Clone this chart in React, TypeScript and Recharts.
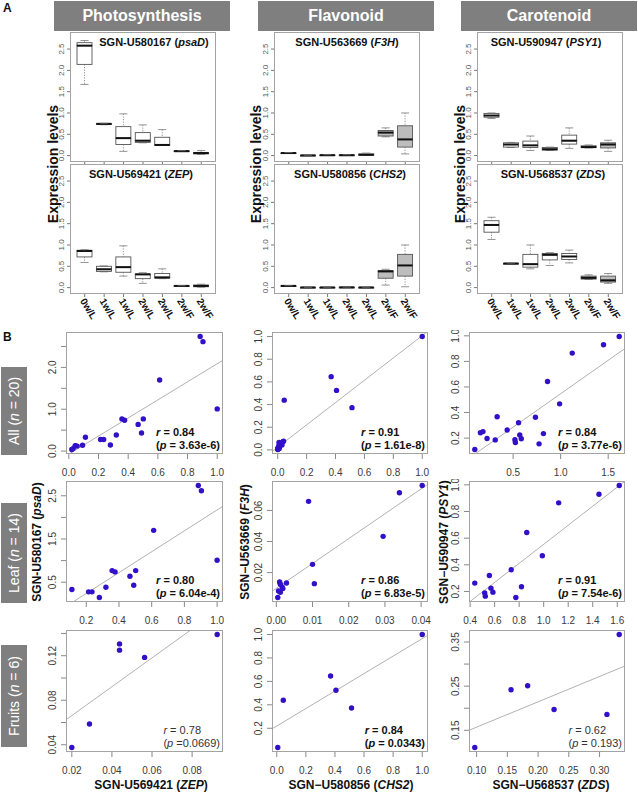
import React from 'react';
import {
  ComposedChart, Bar, XAxis, YAxis, ScatterChart, Scatter, ReferenceLine,
} from 'recharts';

const FONT = '"Liberation Sans", Arial, Helvetica, sans-serif';
const DOT = '#3210c8';
const FRAME = '#a3a3a3';
const TICK_TXT = '#3a3a3a';
const HEAD_BG = '#7f7f7f';

// ---------- A: box plots ----------
const stageLabels = ['0w/L', '1w/L', '1w/L', '2w/L', '2w/L', '2w/F', '2w/F'];
const stageFruit = [false, false, false, false, false, true, true];

// [min, q1, median, q3, max] per stage
const psadBox = [
  [1.67, 2.14, 2.58, 2.65, 2.70],
  [0.725, 0.735, 0.745, 0.752, 0.76],
  [0.10, 0.26, 0.41, 0.68, 0.98],
  [0.30, 0.31, 0.35, 0.54, 0.72],
  [0.24, 0.245, 0.25, 0.43, 0.61],
  [0.095, 0.10, 0.105, 0.11, 0.115],
  [0.03, 0.04, 0.06, 0.075, 0.12],
];
const zepBox = [
  [0.59, 0.72, 0.86, 0.875, 0.89],
  [0.37, 0.38, 0.43, 0.50, 0.51],
  [0.27, 0.36, 0.48, 0.72, 0.98],
  [0.10, 0.21, 0.31, 0.32, 0.35],
  [0.21, 0.22, 0.24, 0.33, 0.44],
  [0.035, 0.038, 0.04, 0.042, 0.045],
  [0.01, 0.02, 0.04, 0.06, 0.08],
];
const f3hBox = [
  [0.05, 0.055, 0.06, 0.065, 0.07],
  [0.0, 0.003, 0.005, 0.007, 0.01],
  [0.005, 0.008, 0.01, 0.013, 0.02],
  [0.004, 0.007, 0.01, 0.013, 0.02],
  [0.01, 0.015, 0.02, 0.04, 0.06],
  [0.44, 0.46, 0.54, 0.59, 0.65],
  [0.04, 0.20, 0.38, 0.70, 1.0],
];
const chs2Box = [
  [0.035, 0.038, 0.04, 0.042, 0.045],
  [0.0, 0.002, 0.004, 0.006, 0.008],
  [0.0, 0.002, 0.004, 0.006, 0.008],
  [0.002, 0.004, 0.006, 0.008, 0.012],
  [0.0, 0.002, 0.004, 0.006, 0.008],
  [0.06, 0.22, 0.38, 0.40, 0.43],
  [0.02, 0.27, 0.52, 0.78, 1.0],
];
const psy1Box = [
  [0.87, 0.90, 0.94, 0.99, 1.0],
  [0.19, 0.20, 0.26, 0.30, 0.31],
  [0.12, 0.19, 0.24, 0.34, 0.46],
  [0.12, 0.13, 0.15, 0.19, 0.20],
  [0.17, 0.27, 0.35, 0.48, 0.65],
  [0.18, 0.19, 0.20, 0.23, 0.25],
  [0.10, 0.18, 0.26, 0.30, 0.36],
];
const zdsBox = [
  [1.13, 1.30, 1.47, 1.57, 1.65],
  [0.555, 0.56, 0.565, 0.57, 0.575],
  [0.44, 0.48, 0.55, 0.78, 1.0],
  [0.52, 0.65, 0.77, 0.80, 0.82],
  [0.58, 0.66, 0.73, 0.80, 0.88],
  [0.19, 0.20, 0.23, 0.27, 0.30],
  [0.10, 0.13, 0.17, 0.27, 0.33],
];
const boxYTicks = [0, 0.5, 1, 1.5, 2, 2.5];

// ---------- B: scatter data (x gene, y gene) ----------
const zepLeaf = [0.885, 0.904, 0.612, 1.0, 0.358, 0.376, 0.502, 0.467, 0.49, 0.32, 0.28, 0.214, 0.235, 0.112];
const psadLeaf = [2.738, 2.615, 1.70, 1.008, 0.769, 0.738, 0.769, 0.638, 0.431, 0.385, 0.146, 0.277, 0.277, 0.33];
const zepFruit = [0.020, 0.0288, 0.0438, 0.0438, 0.0563, 0.0925];
const psadFruit = [0.0376, 0.0587, 0.1306, 0.125, 0.1185, 0.139];

const chs2Leaf = [0.0403, 0.034, 0.0295, 0.0089, 0.0100, 0.0105, 0.0028, 0.0009, 0.0011, 0.0016, 0.0018, 0.0006, 0.0011, 0.0004];
const f3hLeaf = [0.076, 0.0713, 0.0433, 0.0658, 0.0253, 0.0129, 0.0133, 0.014, 0.0125, 0.0108, 0.0097, 0.0082, 0.0074, 0.004];
const chs2Fruit = [1.0, 0.37, 0.407, 0.514, 0.045, 0.007];
const f3hFruit = [1.0, 0.646, 0.525, 0.373, 0.439, 0.036];

const zdsLeaf = [1.616, 1.451, 1.122, 0.862, 0.989, 0.735, 0.557, 0.438, 0.819, 0.57, 0.586, 0.519, 0.524, 0.773];
const psy1Leaf = [0.995, 0.93, 0.865, 0.643, 0.468, 0.363, 0.32, 0.263, 0.235, 0.225, 0.195, 0.188, 0.165, 0.155];
const zdsFruit = [0.332, 0.156, 0.183, 0.226, 0.312, 0.097];
const psy1Fruit = [0.367, 0.242, 0.251, 0.197, 0.186, 0.111];

// fitted lines: [intercept, slope]
const fitLines = {
  allPhoto: [-0.0735, 2.161], allFlav: [0.024, 0.984], allCaro: [0.024, 0.523],
  leafPhoto: [-0.244, 2.417], leafFlav: [0.0099, 1.598], leafCaro: [-0.161, 0.715],
  fruitPhoto: [0.0403, 1.296], fruitFlav: [0.219, 0.746], fruitCaro: [0.0997, 0.574],
};

const pairs = (xs: number[], ys: number[]) => xs.map((x, i) => ({ x, y: ys[i] }));

// ---------- layout ----------
const BOX_X = [70, 274, 477];
const BOX_Y = [32, 164];
const BOX_W = 146;
const BOX_H = 130;

const SC_X = [66, 272, 469];
const SC_W = [157, 156, 156];
const SC_Y = [332, 481, 630];
const SC_H = [122, 121, 122];

const abs = (left: number, top: number, extra: React.CSSProperties = {}): React.CSSProperties => ({
  position: 'absolute', left, top, ...extra,
});

const Frame = ({ x, y, w, h }: { x: number; y: number; w: number; h: number }) => (
  <div style={abs(x, y, { width: w, height: h, border: `1px solid ${FRAME}`, boxSizing: 'border-box', pointerEvents: 'none' })} />
);

// ----- box plot shapes (stacked segments) -----
const LowWhisker = (p: any) => {
  const { x, y, width, height } = p;
  const cx = x + width / 2;
  return (
    <g>
      <line x1={cx} x2={cx} y1={y} y2={y + height} stroke="#777" strokeWidth={0.8} strokeDasharray="1.2 1.4" />
      <line x1={cx - width * 0.27} x2={cx + width * 0.27} y1={y + height} y2={y + height} stroke="#777" strokeWidth={0.8} />
    </g>
  );
};
const HighWhisker = (p: any) => {
  const { x, y, width, height } = p;
  const cx = x + width / 2;
  return (
    <g>
      <line x1={cx} x2={cx} y1={y} y2={y + height} stroke="#777" strokeWidth={0.8} strokeDasharray="1.2 1.4" />
      <line x1={cx - width * 0.27} x2={cx + width * 0.27} y1={y} y2={y} stroke="#777" strokeWidth={0.8} />
    </g>
  );
};
const LowBox = (p: any) => {
  const { x, y, width, height, payload } = p;
  return <rect x={x} y={y} width={width} height={Math.max(height, 0.5)} fill={payload.fruit ? '#bdbdbd' : '#fff'} stroke="#555" strokeWidth={0.9} />;
};
const HighBox = (p: any) => {
  const { x, y, width, height, payload } = p;
  return (
    <g>
      <rect x={x} y={y} width={width} height={Math.max(height, 0.5)} fill={payload.fruit ? '#bdbdbd' : '#fff'} stroke="#555" strokeWidth={0.9} />
      <line x1={x} x2={x + width} y1={y + height} y2={y + height} stroke="#111" strokeWidth={2} />
    </g>
  );
};
const Nothing = () => <g />;

const boxYTick = (p: any) => {
  const { x, y, payload } = p;
  const tx = x - 3;
  return (
    <text x={tx} y={y} transform={`rotate(-90 ${tx} ${y})`} textAnchor="middle" fontSize={8} fill="#555" fontFamily={FONT}>
      {payload.value.toFixed(1)}
    </text>
  );
};
const stageTick = (show: boolean) => (p: any) => {
  if (!show) return <g />;
  const { x, y, payload } = p;
  const tx = x - 5;
  const ty = y + 4;
  return (
    <text x={tx} y={ty} transform={`rotate(58 ${tx} ${ty})`} fontSize={10} fontWeight="bold" fill="#111" fontFamily={FONT}>
      {stageLabels[payload.value]}
    </text>
  );
};

const BoxPanel = ({ stats, col, row, title, gene, titleX }: any) => {
  const fx = BOX_X[col];
  const fy = BOX_Y[row];
  const YW = 16;
  const XH = row === 1 ? 36 : 4;
  const rows = stats.map((s: number[], i: number) => ({
    idx: i, base: s[0], lw: s[1] - s[0], lb: s[2] - s[1], hb: s[3] - s[2], hw: s[4] - s[3], fruit: stageFruit[i],
  }));
  const pad = Math.round((BOX_W / 7.56) * 0.28);
  return (
    <>
      <div style={abs(fx - YW, fy)}>
        <ComposedChart width={YW + BOX_W} height={BOX_H + XH} data={rows} margin={{ top: 0, right: 0, bottom: 0, left: 0 }}>
          <XAxis dataKey="idx" type="category" height={XH} padding={{ left: pad, right: pad }} axisLine={false}
            tickSize={3} tickMargin={0} tickLine={{ stroke: '#777' }} tick={stageTick(row === 1)} interval={0} />
          <YAxis type="number" domain={[-0.15, 2.9]} allowDataOverflow ticks={boxYTicks} interval={0} width={YW}
            axisLine={false} tickSize={3} tickMargin={0} tickLine={{ stroke: '#777' }} tick={boxYTick} />
          <Bar dataKey="base" stackId="s" shape={Nothing} barSize={15} isAnimationActive={false} />
          <Bar dataKey="lw" stackId="s" shape={LowWhisker} barSize={15} isAnimationActive={false} />
          <Bar dataKey="lb" stackId="s" shape={LowBox} barSize={15} isAnimationActive={false} />
          <Bar dataKey="hb" stackId="s" shape={HighBox} barSize={15} isAnimationActive={false} />
          <Bar dataKey="hw" stackId="s" shape={HighWhisker} barSize={15} isAnimationActive={false} />
        </ComposedChart>
      </div>
      <Frame x={fx} y={fy} w={BOX_W} h={BOX_H} />
      <div style={abs(titleX, fy + 10, { transform: 'translate(-50%, -50%)', fontSize: 11, fontWeight: 'bold', whiteSpace: 'nowrap' })}>
        {title} (<i>{gene}</i>)
      </div>
    </>
  );
};

// ----- scatter panels -----
const Dot = (p: any) => <circle cx={p.cx} cy={p.cy} r={2.7} fill={DOT} />;

const near = (a: number, list: number[]) => list.some((v) => Math.abs(v - a) < 1e-9);

const ScatterPanel = ({ col, row, pts, xDomain, yDomain, xTicks, yTicks, yShow, xDec, yDec, fit, r, p, bold, pText }: any) => {
  const fx = SC_X[col];
  const fy = SC_Y[row];
  const fw = SC_W[col];
  const fh = SC_H[row];
  const YW = 24;
  const XH = 26;
  const MT = 2;
  const MR = 3;
  const seg = [
    { x: xDomain[0], y: fit[0] + fit[1] * xDomain[0] },
    { x: xDomain[1], y: fit[0] + fit[1] * xDomain[1] },
  ];
  const xTick = (tp: any) => (
    <text x={tp.x} y={tp.y + 17} textAnchor="middle" fontSize={10} fill={TICK_TXT} fontFamily={FONT}>
      {tp.payload.value.toFixed(xDec)}
    </text>
  );
  const yTick = (tp: any) => {
    if (!near(tp.payload.value, yShow)) return <g />;
    const tx = tp.x - 5;
    return (
      <text x={tx} y={tp.y} transform={`rotate(-90 ${tx} ${tp.y})`} textAnchor="middle" fontSize={10} fill={TICK_TXT} fontFamily={FONT}>
        {tp.payload.value.toFixed(yDec)}
      </text>
    );
  };
  return (
    <>
      <div style={abs(fx - YW, fy - MT)}>
        <ScatterChart width={YW + fw + MR} height={MT + fh + XH} margin={{ top: MT, right: MR, bottom: 0, left: 0 }}>
          <XAxis type="number" dataKey="x" domain={xDomain} allowDataOverflow ticks={xTicks} interval={0} height={XH}
            axisLine={false} tickSize={5} tickMargin={0} tickLine={{ stroke: '#888' }} tick={xTick} />
          <YAxis type="number" dataKey="y" domain={yDomain} allowDataOverflow ticks={yTicks} interval={0} width={YW}
            axisLine={false} tickSize={5} tickMargin={0} tickLine={{ stroke: '#888' }} tick={yTick} />
          <ReferenceLine segment={seg} stroke="#a8a8a8" strokeWidth={0.9} ifOverflow="hidden" />
          <Scatter data={pts} shape={Dot} isAnimationActive={false} />
        </ScatterChart>
      </div>
      <Frame x={fx} y={fy} w={fw} h={fh} />
      <div style={abs(fx + fw - 3, fy + fh - 28, {
        transform: 'translateX(-100%)', fontSize: 11, lineHeight: '13px', fontWeight: bold ? 'bold' : 'normal',
        whiteSpace: 'nowrap', color: bold ? '#111' : '#333',
      })}>
        <div><i>r</i> = {r}</div>
        <div>(<i>p</i> {pText ?? `= ${p}`})</div>
      </div>
    </>
  );
};

const Header = ({ left, text }: { left: number; text: string }) => (
  <div style={abs(left, 1, {
    width: 176, height: 30, background: HEAD_BG, color: '#fff', fontSize: 16, fontWeight: 'bold',
    display: 'flex', alignItems: 'center', justifyContent: 'center',
  })}>{text}</div>
);

const RowTag = ({ top, height, label, n }: { top: number; height: number; label: string; n: number }) => (
  <div style={abs(1, top, { width: 26, height, background: HEAD_BG })}>
    <div style={abs(13, height / 2, {
      transform: 'translate(-50%, -50%) rotate(-90deg)', color: '#fff', fontSize: 14, whiteSpace: 'nowrap',
    })}>
      {label} (<i>n</i> = {n})
    </div>
  </div>
);

const VText = ({ cx, cy, size, children }: any) => (
  <div style={abs(cx, cy, {
    transform: 'translate(-50%, -50%) rotate(-90deg)', fontSize: size, fontWeight: 'bold', whiteSpace: 'nowrap',
  })}>{children}</div>
);

const HText = ({ cx, cy, size, children }: any) => (
  <div style={abs(cx, cy, {
    transform: 'translate(-50%, -50%)', fontSize: size, fontWeight: 'bold', whiteSpace: 'nowrap',
  })}>{children}</div>
);

export default function App() {
  const tk02 = [0, 0.2, 0.4, 0.6, 0.8, 1.0];
  return (
    <div style={{ position: 'absolute', left: 0, top: 0, width: 638, height: 795, background: '#fff', fontFamily: FONT, color: '#111', overflow: 'hidden' }}>
      {/* panel A */}
      <div style={abs(3, 1, { fontSize: 12, fontWeight: 'bold' })}>A</div>
      <Header left={54} text="Photosynthesis" />
      <Header left={258} text="Flavonoid" />
      <Header left={461} text="Carotenoid" />

      <BoxPanel stats={psadBox} col={0} row={0} title="SGN-U580167" gene="psaD" titleX={154} />
      <BoxPanel stats={zepBox} col={0} row={1} title="SGN-U569421" gene="ZEP" titleX={141} />
      <BoxPanel stats={f3hBox} col={1} row={0} title="SGN-U563669" gene="F3H" titleX={347} />
      <BoxPanel stats={chs2Box} col={1} row={1} title="SGN-U580856" gene="CHS2" titleX={350} />
      <BoxPanel stats={psy1Box} col={2} row={0} title="SGN-U590947" gene="PSY1" titleX={546} />
      <BoxPanel stats={zdsBox} col={2} row={1} title="SGN-U568537" gene="ZDS" titleX={553} />

      <VText cx={53} cy={164} size={14}>Expression levels</VText>
      <VText cx={256} cy={164} size={14}>Expression levels</VText>
      <VText cx={460} cy={164} size={14}>Expression levels</VText>

      {/* panel B */}
      <div style={abs(3, 330, { fontSize: 12, fontWeight: 'bold' })}>B</div>
      <RowTag top={367} height={88} label="All" n={20} />
      <RowTag top={503} height={100} label="Leaf" n={14} />
      <RowTag top={645} height={102} label="Fruits" n={6} />

      <ScatterPanel col={0} row={0} pts={pairs([...zepLeaf, ...zepFruit], [...psadLeaf, ...psadFruit])}
        xDomain={[-0.019, 1.039]} yDomain={[-0.07, 2.846]} xTicks={tk02} xDec={1}
        yTicks={[0, 0.5, 1, 1.5, 2, 2.5]} yShow={[0, 1, 2]} yDec={1}
        fit={fitLines.allPhoto} r="0.84" p="3.63e-6" bold />
      <ScatterPanel col={1} row={0} pts={pairs([...chs2Leaf, ...chs2Fruit], [...f3hLeaf, ...f3hFruit])}
        xDomain={[-0.0396, 1.04]} yDomain={[-0.036, 1.04]} xTicks={tk02} xDec={1}
        yTicks={tk02} yShow={tk02} yDec={1}
        fit={fitLines.allFlav} r="0.91" p="1.61e-8" bold />
      <ScatterPanel col={2} row={0} pts={pairs([...zdsLeaf, ...zdsFruit], [...psy1Leaf, ...psy1Fruit])}
        xDomain={[0.036, 1.677]} yDomain={[0.0756, 1.03]} xTicks={[0.5, 1.0, 1.5]} xDec={1}
        yTicks={[0.2, 0.4, 0.6, 0.8, 1.0]} yShow={[0.2, 0.4, 0.6, 0.8, 1.0]} yDec={1}
        fit={fitLines.allCaro} r="0.84" p="3.77e-6" bold />

      <ScatterPanel col={0} row={1} pts={pairs(zepLeaf, psadLeaf)}
        xDomain={[0.076, 1.036]} yDomain={[0.042, 2.842]} xTicks={[0.2, 0.4, 0.6, 0.8, 1.0]} xDec={1}
        yTicks={[0.5, 1, 1.5, 2, 2.5]} yShow={[0.5, 1.5, 2.5]} yDec={1}
        fit={fitLines.leafPhoto} r="0.80" p="6.04e-4" bold />
      <ScatterPanel col={1} row={1} pts={pairs(chs2Leaf, f3hLeaf)}
        xDomain={[-0.0012, 0.0419]} yDomain={[0.0011, 0.0789]} xTicks={[0, 0.01, 0.02, 0.03, 0.04]} xDec={2}
        yTicks={[0.02, 0.04, 0.06]} yShow={[0.02, 0.04, 0.06]} yDec={2}
        fit={fitLines.leafFlav} r="0.86" p="6.83e-5" bold />
      <ScatterPanel col={2} row={1} pts={pairs(zdsLeaf, psy1Leaf)}
        xDomain={[0.391, 1.663]} yDomain={[0.121, 1.029]} xTicks={[0.4, 0.6, 0.8, 1.0, 1.2, 1.4, 1.6]} xDec={1}
        yTicks={[0.2, 0.4, 0.6, 0.8, 1.0]} yShow={[0.2, 0.4, 0.6, 0.8, 1.0]} yDec={1}
        fit={fitLines.leafCaro} r="0.91" p="7.54e-6" bold />

      <ScatterPanel col={0} row={2} pts={pairs(zepFruit, psadFruit)}
        xDomain={[0.0171, 0.0954]} yDomain={[0.0335, 0.1431]} xTicks={[0.02, 0.04, 0.06, 0.08]} xDec={2}
        yTicks={[0.04, 0.06, 0.08, 0.10, 0.12, 0.14]} yShow={[0.04, 0.08, 0.12]} yDec={2}
        fit={fitLines.fruitPhoto} r="0.78" pText="=0.0669" />
      <ScatterPanel col={1} row={2} pts={pairs(chs2Fruit, f3hFruit)}
        xDomain={[-0.0327, 1.0397]} yDomain={[-0.0026, 1.0386]} xTicks={tk02} xDec={1}
        yTicks={[0.2, 0.4, 0.6, 0.8, 1.0]} yShow={[0.2, 0.4, 0.6, 0.8, 1.0]} yDec={1}
        fit={fitLines.fruitFlav} r="0.84" p="0.0343" bold />
      <ScatterPanel col={2} row={2} pts={pairs(zdsFruit, psy1Fruit)}
        xDomain={[0.0876, 0.3414]} yDomain={[0.1008, 0.3772]} xTicks={[0.10, 0.15, 0.20, 0.25, 0.30]} xDec={2}
        yTicks={[0.15, 0.20, 0.25, 0.30, 0.35]} yShow={[0.15, 0.25, 0.35]} yDec={2}
        fit={fitLines.fruitCaro} r="0.62" p="0.193" />

      <VText cx={37} cy={542} size={12}>SGN-U580167 (<i>psaD</i>)</VText>
      <VText cx={245} cy={542} size={12}>SGN−U563669 (<i>F3H</i>)</VText>
      <VText cx={444} cy={542} size={12}>SGN−U590947 (<i>PSY1</i>)</VText>

      <HText cx={151} cy={785} size={12}>SGN-U569421 (<i>ZEP</i>)</HText>
      <HText cx={351} cy={785} size={12}>SGN−U580856 (<i>CHS2</i>)</HText>
      <HText cx={551} cy={785} size={12}>SGN−U568537 (<i>ZDS</i>)</HText>
    </div>
  );
}
